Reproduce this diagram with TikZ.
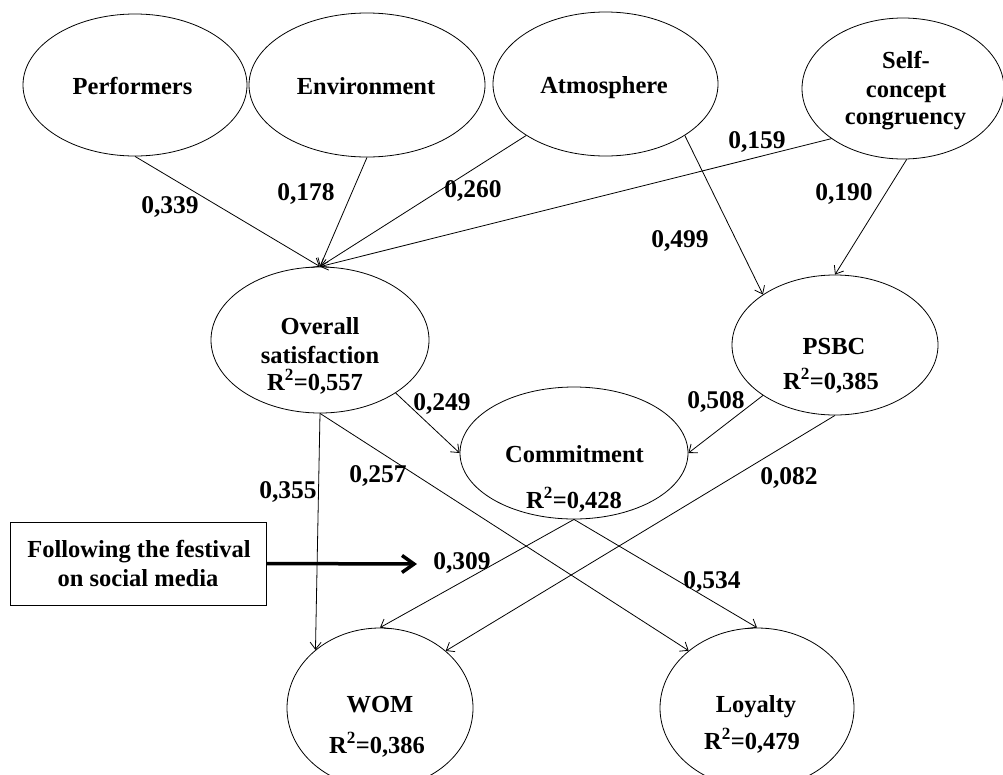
\documentclass[tikz,border=0pt]{standalone}
\usepackage{fontspec}
\setmainfont{Liberation Serif}
\usetikzlibrary{arrows.meta,shapes.geometric}
\begin{document}
\begin{tikzpicture}[x=1pt,y=-1pt,
  lat/.style={draw, ellipse, line width=0.8pt, inner sep=0pt},
  txt/.style={font=\fontsize{24.5}{28}\selectfont\bfseries, inner sep=0pt, anchor=base},
  coef/.style={font=\fontsize{25.5}{28}\selectfont\bfseries, inner sep=0pt, anchor=base},
  pth/.style={line width=0.8pt, -{Straight Barb[length=7pt,width=11pt]}},
  thickarrow/.style={line width=3.5pt, -{Straight Barb[length=12pt,width=17pt]}}
]
\clip (0,0) rectangle (1003,774);

% latent variables
\node[lat, minimum width=224pt, minimum height=142pt] (perf) at (135,85) {};
\node[lat, minimum width=236pt, minimum height=144pt] (env) at (367,85) {};
\node[lat, minimum width=225pt, minimum height=144pt] (atm) at (605.5,84) {};
\node[lat, minimum width=202pt, minimum height=141pt] (self) at (903,88.5) {};
\node[lat, minimum width=218pt, minimum height=146pt] (os) at (320,340) {};
\node[lat, minimum width=206pt, minimum height=140pt] (psbc) at (835,345) {};
\node[lat, minimum width=228pt, minimum height=132pt] (comm) at (574,453) {};
\node[lat, minimum width=186pt, minimum height=160pt] (wom) at (380,708) {};
\node[lat, minimum width=194pt, minimum height=160pt] (loy) at (757,708) {};
\node[draw, line width=0.8pt, minimum width=256pt, minimum height=83pt, inner sep=0pt] (soc) at (138,563.5) {};

% texts
\node[txt] (perfT) at (132.5,94) {Performers};
\node[txt] (envT) at (366,94) {Environment};
\node[txt] (atmT) at (604,93) {Atmosphere};
\node[txt] (selfT1) at (906,68) {Self-};
\node[txt] (selfT2) at (906,97) {concept};
\node[txt] (selfT3) at (905.5,124) {congruency};
\node[txt] (osT1) at (320,334) {Overall};
\node[txt] (osT2) at (320,363) {satisfaction};
\node[txt] (osT3) at (315,390) {R\textsuperscript{2}=0,557};
\node[txt] (psbcT1) at (834,354) {PSBC};
\node[txt] (psbcT2) at (831,389) {R\textsuperscript{2}=0,385};
\node[txt] (commT1) at (574.5,462) {Commitment};
\node[txt] (commT2) at (574,508) {R\textsuperscript{2}=0,428};
\node[txt] (womT1) at (380,712) {WOM};
\node[txt] (womT2) at (377,753) {R\textsuperscript{2}=0,386};
\node[txt] (loyT1) at (756,712) {Loyalty};
\node[txt] (loyT2) at (752,749) {R\textsuperscript{2}=0,479};
\node[txt] (socT1) at (139,557) {Following the festival};
\node[txt] (socT2) at (138,586) {on social media};

% paths
\draw[pth] (perf.south) -- (os.north);
\draw[pth] (env.south) -- (os.north);
\draw[pth] (atm.213) -- (os.north);
\draw[pth] (self.215) -- (os.north);
\draw[pth] (atm.-33) -- (psbc.145);
\draw[pth] (self.-87) -- (psbc.north);
\draw[pth] (os.-35) -- (comm.west);
\draw[pth] (psbc.215) -- (comm.east);
\draw[pth] (os.south) -- (wom.138);
\draw[pth] (os.south) -- (loy.140);
\draw[pth] (comm.south) -- (wom.north);
\draw[pth] (comm.south) -- (loy.north);
\draw[pth] (psbc.south) -- (wom.41);
\coordinate (socEnd) at (417,564);
\draw[thickarrow] (soc.east) -- (socEnd);

% coefficients
\node[coef] (c1) at (170,213) {0,339};
\node[coef] (c2) at (306,200) {0,178};
\node[coef] (c3) at (473,197) {0,260};
\node[coef] (c4) at (757,148) {0,159};
\node[coef] (c5) at (844,200) {0,190};
\node[coef] (c6) at (680,247) {0,499};
\node[coef] (c7) at (442,410) {0,249};
\node[coef] (c8) at (378,482) {0,257};
\node[coef] (c9) at (288,498) {0,355};
\node[coef] (c10) at (716,408) {0,508};
\node[coef] (c11) at (789,484) {0,082};
\node[coef] (c12) at (462,569) {0,309};
\node[coef] (c13) at (712,588) {0,534};
\end{tikzpicture}
\end{document}
